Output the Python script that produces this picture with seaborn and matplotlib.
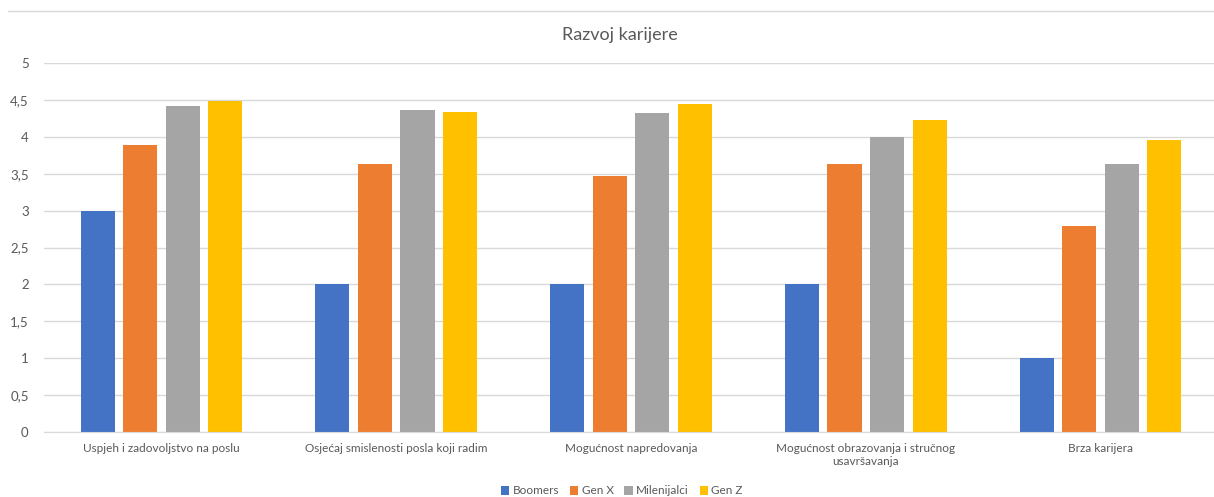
import matplotlib
matplotlib.use('Agg')
import matplotlib.pyplot as plt
from matplotlib.lines import Line2D
import seaborn as sns
import pandas as pd

categories = ['Uspjeh i zadovoljstvo na poslu',
              'Osjećaj smislenosti posla koji radim',
              'Mogućnost napredovanja',
              'Mogućnost obrazovanja i stručnog\nusavršavanja',
              'Brza karijera']
boomers = [3.0, 2.0, 2.0, 2.0, 1.0]
gen_x = [3.89, 3.63, 3.47, 3.63, 2.79]
milenijalci = [4.42, 4.36, 4.32, 4.0, 3.63]
gen_z = [4.48, 4.34, 4.45, 4.23, 3.95]
series = ['Boomers', 'Gen X', 'Milenijalci', 'Gen Z']
colors = ['#4472C4', '#ED7D31', '#A5A5A5', '#FFC000']

rows = []
for name, vals in zip(series, [boomers, gen_x, milenijalci, gen_z]):
    for cat, v in zip(categories, vals):
        rows.append({'kategorija': cat, 'serija': name, 'vrijednost': v})
df = pd.DataFrame(rows)

sns.set_style('white')
plt.rcParams['font.family'] = ['Lato', 'DejaVu Sans']
text_col = '#595959'

W, H = 1214, 497
fig = plt.figure(figsize=(W / 100, H / 100), dpi=100)
ax = fig.add_axes([44 / W, 65 / H, 1174 / W, 369 / H])

sns.barplot(data=df, x='kategorija', y='vrijednost', hue='serija',
            palette=colors, width=0.725, gap=0.2, ax=ax, legend=True,
            linewidth=0, saturation=1)

ax.set_xlim(-0.5, 4.5)
ax.set_ylim(0, 5)
ax.set_yticks([0, 0.5, 1, 1.5, 2, 2.5, 3, 3.5, 4, 4.5, 5])
ax.set_yticklabels(['0', '0,5', '1', '1,5', '2', '2,5', '3', '3,5', '4', '4,5', '5'])
ax.yaxis.grid(True, color='#D9D9D9', linewidth=1)
ax.set_axisbelow(True)
for s in ['top', 'right', 'left']:
    ax.spines[s].set_visible(False)
ax.spines['bottom'].set_color('#D9D9D9')
ax.tick_params(axis='both', length=0, colors=text_col)
ax.tick_params(axis='y', pad=11, labelsize=9.5)
ax.tick_params(axis='x', pad=8, labelsize=8.5)
ax.set_xlabel('')
ax.set_ylabel('')

fig.text(620 / W, 1 - 35 / H, 'Razvoj karijere', ha='center', va='center',
         fontsize=13, color=text_col)

fig.add_artist(Line2D([8 / W, 1], [1 - 11 / H, 1 - 11 / H], color='#D9D9D9',
                      linewidth=1, transform=fig.transFigure))

handles, labels = ax.get_legend_handles_labels()
ax.legend(handles, labels, loc='center', bbox_to_anchor=(622 / W, 1 - 491 / H),
          bbox_transform=fig.transFigure, ncol=4, frameon=False,
          fontsize=8.5, labelcolor=text_col, handlelength=0.7, handleheight=0.7,
          handletextpad=0.3, columnspacing=0.9)

fig.savefig('out.png', dpi=100)
